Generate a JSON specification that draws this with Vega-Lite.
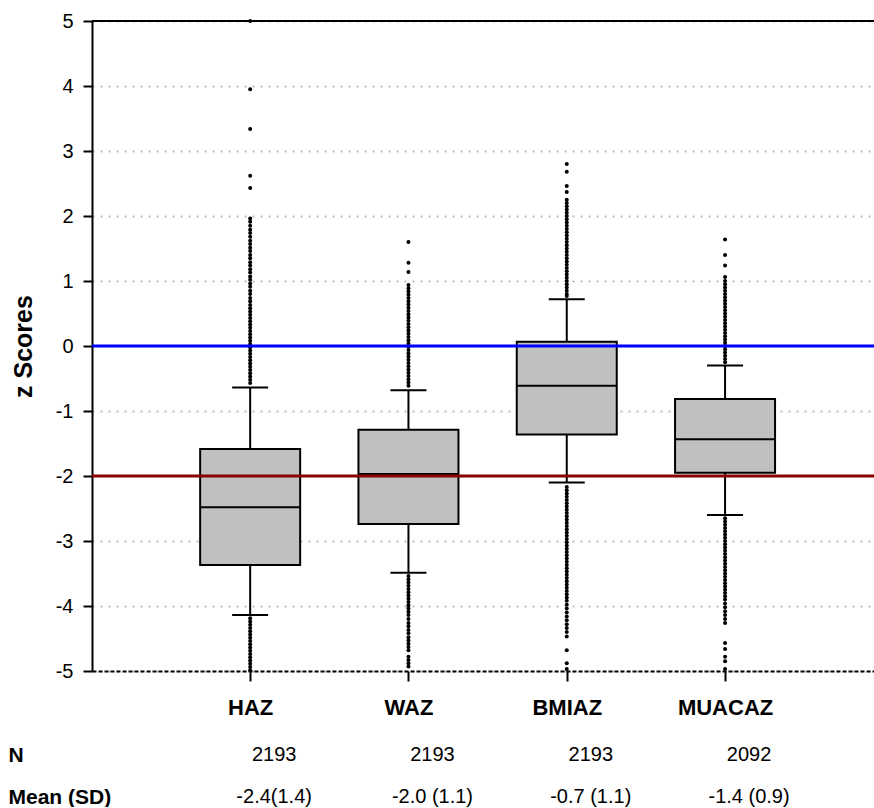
{
  "$schema": "https://vega.github.io/schema/vega-lite/v6.json",
  "background": "white",
  "padding": {"left": 8, "top": 11, "right": 0, "bottom": 0},
  "config": {"view": {"stroke": null}, "font": "Liberation Sans", "concat": {"spacing": 26}},
  "datasets": {
    "boxes": [
      {"var": "HAZ", "lo": -4.14, "q1": -3.37, "median": -2.48, "q3": -1.585, "hi": -0.64},
      {"var": "WAZ", "lo": -3.49, "q1": -2.74, "median": -1.97, "q3": -1.29, "hi": -0.68},
      {"var": "BMIAZ", "lo": -2.1, "q1": -1.36, "median": -0.61, "q3": 0.066, "hi": 0.72},
      {"var": "MUACAZ", "lo": -2.6, "q1": -1.95, "median": -1.435, "q3": -0.815, "hi": -0.3}
    ],
    "outlierLists": [
      {"var": "HAZ", "z": [5.0, 3.95, 3.34, 2.62, 2.43, 1.96, 1.91, 1.85, 1.79, 1.74, 1.68, 1.62, 1.57, 1.51, 1.46, 1.4, 1.35, 1.29, 1.24, 1.18, 1.13, 1.07, 1.02, 0.96, 0.91, 0.85, 0.8, 0.74, 0.69, 0.63, 0.58, 0.53, 0.48, 0.43, 0.38, 0.33, 0.28, 0.23, 0.18, 0.13, 0.08, 0.03, -0.02, -0.07, -0.12, -0.17, -0.22, -0.27, -0.32, -0.37, -0.42, -0.47, -0.52, -0.57,
        -4.19, -4.24, -4.29, -4.34, -4.39, -4.44, -4.49, -4.54, -4.59, -4.64, -4.69, -4.74, -4.79, -4.84, -4.89, -4.94, -4.99]},
      {"var": "WAZ", "z": [1.6, 1.28, 1.14, 0.94, 0.89, 0.84, 0.79, 0.74, 0.69, 0.64, 0.59, 0.54, 0.49, 0.44, 0.39, 0.34, 0.29, 0.24, 0.19, 0.14, 0.09, 0.04, -0.01, -0.06, -0.11, -0.16, -0.21, -0.26, -0.31, -0.36, -0.41, -0.46, -0.51, -0.56, -0.61,
        -3.54, -3.59, -3.64, -3.69, -3.74, -3.79, -3.84, -3.89, -3.94, -3.99, -4.04, -4.09, -4.14, -4.2, -4.26, -4.31, -4.37, -4.42, -4.48, -4.53, -4.58, -4.63, -4.68, -4.78, -4.83, -4.88, -4.93]},
      {"var": "BMIAZ", "z": [2.8, 2.68, 2.46, 2.37, 2.25, 2.2, 2.15, 2.1, 2.05, 2.0, 1.95, 1.9, 1.85, 1.8, 1.75, 1.7, 1.65, 1.6, 1.55, 1.5, 1.45, 1.4, 1.35, 1.3, 1.25, 1.2, 1.15, 1.1, 1.05, 1.0, 0.95, 0.9, 0.85, 0.8, 0.77,
        -2.17, -2.22, -2.27, -2.32, -2.37, -2.42, -2.47, -2.52, -2.57, -2.62, -2.67, -2.72, -2.77, -2.82, -2.87, -2.92, -2.97, -3.02, -3.07, -3.12, -3.17, -3.22, -3.27, -3.32, -3.37, -3.42, -3.47, -3.52, -3.57, -3.62, -3.67, -3.72, -3.77, -3.82, -3.87, -3.92, -3.98, -4.04, -4.1, -4.16, -4.22, -4.28, -4.34, -4.4, -4.47, -4.68, -4.88, -4.97]},
      {"var": "MUACAZ", "z": [1.64, 1.4, 1.24, 1.06, 1.0, 0.95, 0.9, 0.85, 0.8, 0.75, 0.7, 0.65, 0.6, 0.55, 0.5, 0.45, 0.4, 0.35, 0.3, 0.25, 0.2, 0.15, 0.1, 0.05, 0.0, -0.05, -0.1, -0.15, -0.2, -0.25,
        -2.65, -2.7, -2.75, -2.8, -2.85, -2.9, -2.95, -3.0, -3.05, -3.1, -3.15, -3.2, -3.25, -3.3, -3.35, -3.4, -3.45, -3.5, -3.55, -3.6, -3.65, -3.7, -3.75, -3.8, -3.85, -3.9, -3.96, -4.02, -4.08, -4.14, -4.2, -4.26, -4.57, -4.66, -4.78, -4.85, -4.97]}
    ],
    "refs": [
      {"z": 0, "line": "reference"},
      {"z": -2, "line": "cutoff"}
    ],
    "table": [
      {"var": "HAZ", "stat": "N", "text": "2193"},
      {"var": "WAZ", "stat": "N", "text": "2193"},
      {"var": "BMIAZ", "stat": "N", "text": "2193"},
      {"var": "MUACAZ", "stat": "N", "text": "2092"},
      {"var": "HAZ", "stat": "Mean (SD)", "text": "-2.4(1.4)"},
      {"var": "WAZ", "stat": "Mean (SD)", "text": "-2.0 (1.1)"},
      {"var": "BMIAZ", "stat": "Mean (SD)", "text": "-0.7 (1.1)"},
      {"var": "MUACAZ", "stat": "Mean (SD)", "text": "-1.4 (0.9)"}
    ]
  },
  "vconcat": [
    {
      "width": 782,
      "height": 650,
      "layer": [
        {
          "data": {"name": "boxes"},
          "mark": {"type": "rule", "color": "black", "strokeWidth": 2},
          "encoding": {
            "x": {"field": "var", "type": "nominal",
              "scale": {"type": "point", "domain": ["HAZ", "WAZ", "BMIAZ", "MUACAZ"], "padding": 0.97, "align": 0.515},
              "axis": {"title": null, "labelFontSize": 22, "labelFontWeight": "bold", "labelColor": "black", "labelPadding": 16, "labelAngle": 0,
                "tickSize": 10, "tickWidth": 2, "tickColor": "black", "domainColor": "black", "domainWidth": 2, "domainDash": [4, 2], "grid": false}},
            "y": {"field": "lo", "type": "quantitative",
              "scale": {"domain": [-5, 5], "nice": false, "zero": false},
              "axis": {"title": "z Scores", "titleFontSize": 25, "titleFontWeight": "bold", "titleColor": "black", "titlePadding": 19,
                "values": [-5, -4, -3, -2, -1, 0, 1, 2, 3, 4, 5], "labelExpr": "'' + datum.value", "labelFontSize": 20, "labelColor": "black", "labelPadding": 10,
                "tickSize": 9, "tickWidth": 2, "tickColor": "black", "domainColor": "black", "domainWidth": 2,
                "grid": true, "gridColor": "#bdbdbd", "gridDash": [2, 6], "gridWidth": 2}},
            "y2": {"field": "hi"}
          }
        },
        {
          "data": {"name": "boxes"},
          "mark": {"type": "bar", "size": 100, "fill": "#c0c0c0", "stroke": "black", "strokeWidth": 2, "opacity": 1},
          "encoding": {
            "x": {"field": "var", "type": "nominal"},
            "y": {"field": "q1", "type": "quantitative"},
            "y2": {"field": "q3"}
          }
        },
        {
          "data": {"name": "boxes"},
          "mark": {"type": "tick", "size": 100, "thickness": 2, "color": "black", "opacity": 1},
          "encoding": {
            "x": {"field": "var", "type": "nominal"},
            "y": {"field": "median", "type": "quantitative"}
          }
        },
        {
          "data": {"name": "boxes"},
          "mark": {"type": "tick", "size": 36, "thickness": 2, "color": "black", "opacity": 1},
          "encoding": {
            "x": {"field": "var", "type": "nominal"},
            "y": {"field": "hi", "type": "quantitative"}
          }
        },
        {
          "data": {"name": "boxes"},
          "mark": {"type": "tick", "size": 36, "thickness": 2, "color": "black", "opacity": 1},
          "encoding": {
            "x": {"field": "var", "type": "nominal"},
            "y": {"field": "lo", "type": "quantitative"}
          }
        },
        {
          "data": {"name": "outlierLists"},
          "transform": [{"flatten": ["z"]}],
          "mark": {"type": "circle", "size": 16, "color": "black", "opacity": 1},
          "encoding": {
            "x": {"field": "var", "type": "nominal"},
            "y": {"field": "z", "type": "quantitative"}
          }
        },
        {
          "data": {"name": "refs"},
          "mark": {"type": "rule", "strokeWidth": 3},
          "encoding": {
            "y": {"field": "z", "type": "quantitative"},
            "color": {"field": "line", "type": "nominal", "scale": {"domain": ["reference", "cutoff"], "range": ["#0000ff", "#8b0000"]}, "legend": null}
          }
        },
        {
          "data": {"values": [{}]},
          "mark": {"type": "rule", "color": "black", "strokeWidth": 2},
          "encoding": {
            "y": {"datum": 5}
          }
        }
      ]
    },
    {
      "width": 782,
      "height": 42,
      "data": {"name": "table"},
      "mark": {"type": "text", "fontSize": 20, "color": "black", "dx": 24},
      "encoding": {
        "x": {"field": "var", "type": "nominal",
          "scale": {"type": "point", "domain": ["HAZ", "WAZ", "BMIAZ", "MUACAZ"], "padding": 0.97, "align": 0.515},
          "axis": null},
        "y": {"field": "stat", "type": "ordinal",
          "scale": {"type": "point", "domain": ["N", "Mean (SD)"], "padding": 0},
          "axis": {"title": null, "domain": false, "ticks": false, "tickSize": 0, "labelAlign": "left", "labelPadding": 84,
            "labelFontSize": 21, "labelFontWeight": "bold", "labelColor": "black"}},
        "text": {"field": "text"}
      }
    }
  ]
}
